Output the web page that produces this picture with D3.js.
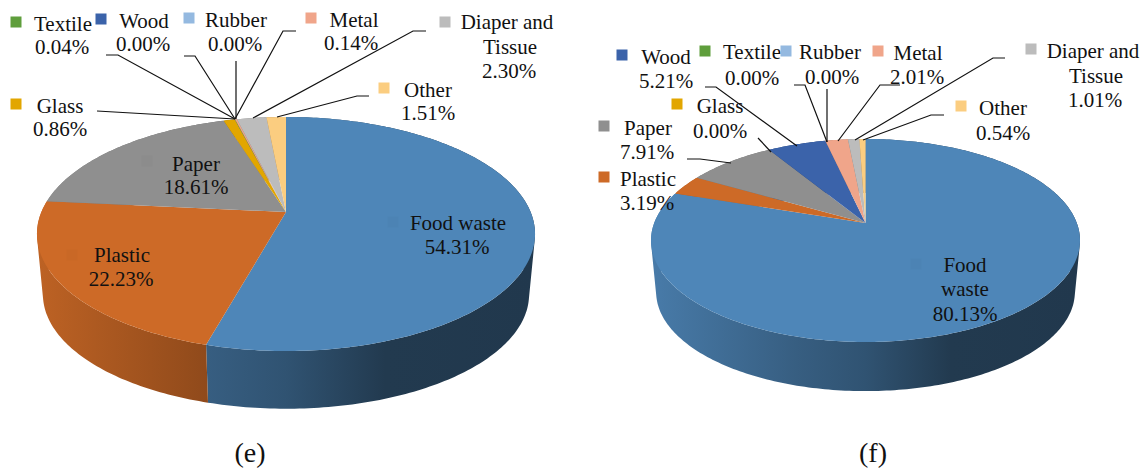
<!DOCTYPE html>
<html>
<head>
<meta charset="utf-8">
<script src="https://cdnjs.cloudflare.com/ajax/libs/d3/7.8.5/d3.min.js"></script>
<style>
  html, body { margin: 0; padding: 0; background: #fff; }
  text { font-family: "Liberation Serif", serif; fill: #111; }
</style>
</head>
<body>
<svg id="chart" width="1146" height="470"></svg>
<script>
var categories = ["Food waste", "Plastic", "Paper", "Glass", "Textile", "Wood", "Rubber", "Metal", "Diaper and Tissue", "Other"];
var valuesE = [54.31, 22.23, 18.61, 0.86, 0.04, 0.0, 0.0, 0.14, 2.3, 1.51];
var valuesF = [80.13, 3.19, 7.91, 0.0, 0.0, 5.21, 0.0, 2.01, 1.01, 0.54];
var colors = ["#4e86b8", "#cd6a27", "#8f8f8f", "#e2a600", "#5f9e3c", "#3b63aa", "#94b9e0", "#f0a58a", "#bcbcbc", "#fbcd80"];

// label placement, [key x, key y, text lines as [x, y]] in the same order as categories
var placeE = [
  { key: [393, 222], lines: [[458, 230], [457, 254]], words: ["Food waste"], inner: true },
  { key: [72, 255], lines: [[122, 262], [121, 286]], words: ["Plastic"], inner: true },
  { key: [147, 161], lines: [[196, 171], [196, 194]], words: ["Paper"], inner: true },
  { key: [16, 104], lines: [[60, 113], [60, 136]], words: ["Glass"] },
  { key: [16, 22], lines: [[63, 31], [62, 54]], words: ["Textile"] },
  { key: [101, 19], lines: [[144, 28], [143, 51]], words: ["Wood"] },
  { key: [189, 18], lines: [[236, 27], [235, 51]], words: ["Rubber"] },
  { key: [311, 18], lines: [[354, 27], [351, 50]], words: ["Metal"] },
  { key: [445, 22], lines: [[507, 29], [510, 54], [509, 78]], words: ["Diaper and", "Tissue"] },
  { key: [384, 88], lines: [[428, 97], [428, 120]], words: ["Other"] }
];
var placeF = [
  { key: [916, 264], lines: [[965, 272], [965, 296], [965, 321]], words: ["Food", "waste"], inner: true },
  { key: [604, 177], lines: [[648, 186], [647, 210]], words: ["Plastic"] },
  { key: [604, 126], lines: [[648, 135], [647, 159]], words: ["Paper"] },
  { key: [677, 104], lines: [[720, 113], [720, 138]], words: ["Glass"] },
  { key: [705, 51], lines: [[752, 59], [752, 85]], words: ["Textile"] },
  { key: [622, 55], lines: [[666, 64], [666, 88]], words: ["Wood"] },
  { key: [786, 51], lines: [[830, 59], [832, 84]], words: ["Rubber"] },
  { key: [878, 51], lines: [[918, 60], [917, 84]], words: ["Metal"] },
  { key: [1031, 49], lines: [[1093, 58], [1096, 83], [1095, 107]], words: ["Diaper and", "Tissue"] },
  { key: [961, 106], lines: [[1003, 115], [1003, 140]], words: ["Other"] }
];

var leadersE = [
  [[97, 111], [235, 119]],
  [[106, 55], [118, 55], [235, 119]],
  [[184, 56], [195, 56], [235, 119]],
  [[236, 61], [236, 119]],
  [[296, 31], [283, 31], [235, 119]],
  [[426, 31], [413, 31], [253, 118]],
  [[369, 96], [357, 96], [277, 117]]
];
var leadersF = [
  [[687, 159], [700, 159], [731, 163]],
  [[758, 138], [771, 152]],
  [[705, 87], [716, 87], [797, 146]],
  [[794, 85], [805, 85], [827, 142]],
  [[827, 89], [827, 142]],
  [[900, 85], [880, 85], [838, 141]],
  [[1005, 58], [993, 58], [855, 140]],
  [[944, 115], [931, 115], [863, 140]]
];

var svg = d3.select("#chart");
var defs = svg.append("defs");
var pie = d3.pie().sort(null).value((d) => d);
var line = d3.line();
var fmt = d3.format(".2f");

// shade of the side wall along the width of the pie
var wallShade = d3.scaleLinear()
  .domain([0, 0.34, 0.5, 0.7, 1])
  .range([0.92, 0.7, 0.62, 0.43, 0.42]);

function drawPie(id, values, place, leaders, geo) {
  var g = svg.append("g");
  var arcs = pie(values);

  // tilted circle with perspective: the apex sits above the middle of the ellipse
  function topPoint(a) {
    var u = Math.sin(a), v = -Math.cos(a), w = 1 - geo.k * v;
    return [geo.cx + (geo.R * u) / w, geo.cy + (geo.S * v) / w];
  }
  function bottomPoint(a) {
    var p = topPoint(a);
    return [geo.cx + (p[0] - geo.cx) * geo.shrink, geo.cy + (p[1] - geo.cy) * geo.shrink + geo.depth];
  }
  function angles(d) {
    var n = Math.max(2, Math.ceil((d.endAngle - d.startAngle) * 60));
    return d3.range(n + 1).map((i) => d.startAngle + ((d.endAngle - d.startAngle) * i) / n);
  }
  // one small quad per step so the part outside both rims gets filled too
  function wallPath(d) {
    var a = angles(d);
    return d3.range(a.length - 1).map(function (i) {
      var q = [topPoint(a[i]), topPoint(a[i + 1]), bottomPoint(a[i + 1]), bottomPoint(a[i])];
      if (d3.polygonArea(q) < 0) q.reverse();
      return line(q) + "Z";
    }).join("");
  }

  var left = geo.cx - geo.R * 1.015;
  var right = geo.cx + geo.R * 1.015;
  colors.forEach(function (c, i) {
    var grad = defs.append("linearGradient")
      .attr("id", id + "-wall-" + i)
      .attr("gradientUnits", "userSpaceOnUse")
      .attr("x1", left).attr("x2", right).attr("y1", 0).attr("y2", 0);
    wallShade.domain().forEach(function (t) {
      var base = d3.rgb(c), s = wallShade(t);
      grad.append("stop")
        .attr("offset", t)
        .attr("stop-color", d3.rgb(base.r * s, base.g * s, base.b * s).formatHex());
    });
  });

  // side walls first, the top face covers whatever faces backwards
  g.selectAll(".wall")
    .data(arcs.filter((d) => d.value > 0))
    .enter().append("path")
    .attr("class", "wall")
    .attr("fill", (d) => "url(#" + id + "-wall-" + d.index + ")")
    .attr("d", wallPath);

  g.selectAll(".slice")
    .data(arcs.filter((d) => d.value > 0))
    .enter().append("path")
    .attr("class", "slice")
    .attr("fill", (d) => colors[d.index])
    .attr("d", (d) => line([[geo.cx, geo.apex]].concat(angles(d).map(topPoint))) + "Z");

  g.selectAll(".leader")
    .data(leaders)
    .enter().append("path")
    .attr("class", "leader")
    .attr("fill", "none")
    .attr("stroke", "#111")
    .attr("stroke-width", 1.2)
    .attr("d", (d) => line(d));

  // legend key plus text for each category
  place.forEach(function (p, i) {
    g.append("rect")
      .attr("x", p.key[0] - 5.5)
      .attr("y", p.key[1] - 5.5)
      .attr("width", 11)
      .attr("height", 11)
      .attr("fill", p.inner ? d3.rgb(colors[i]).darker(0.06).formatHex() : colors[i]);
    var rows = p.words.concat([fmt(values[i]) + "%"]);
    rows.forEach(function (t, j) {
      g.append("text")
        .attr("x", p.lines[j][0])
        .attr("y", p.lines[j][1])
        .attr("text-anchor", "middle")
        .attr("font-size", 21)
        .text(t);
    });
  });

  svg.append("text")
    .attr("x", geo.captionX)
    .attr("y", 462)
    .attr("text-anchor", "middle")
    .attr("font-size", 28)
    .text(id === "e" ? "(e)" : "(f)");
}

drawPie("e", valuesE, placeE, leadersE, {
  cx: 286, cy: 212, apex: 212, R: 244.6, S: 112.9, k: 0.188, depth: 61, shrink: 0.976, captionX: 250
});
drawPie("f", valuesF, placeF, leadersF, {
  cx: 865.5, cy: 223, apex: 223, R: 211.3, S: 98.5, k: 0.172, depth: 52, shrink: 0.976, captionX: 873
});
</script>
</body>
</html>
